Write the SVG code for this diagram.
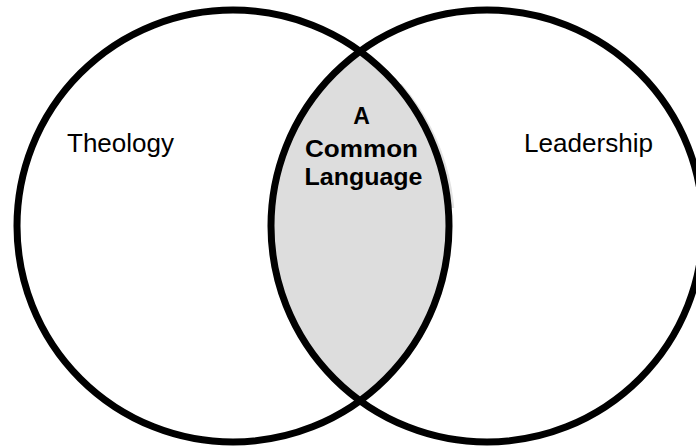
<svg xmlns="http://www.w3.org/2000/svg" width="696" height="446" viewBox="0 0 696 446">
  <style>
    .ring { fill: none; stroke: #000; stroke-width: 7; }
    .label { font-family: "Liberation Sans", Arial, sans-serif; font-size: 25px; fill: #000; }
    .core { font-family: "Liberation Sans", Arial, sans-serif; font-size: 23px; font-weight: bold; fill: #000; text-anchor: middle; }
  </style>
  <defs>
    <path id="lens" d="M 360 51.3 A 216 216 0 0 1 360 400.7 A 216 216 0 0 1 360 51.3 Z"/>
    <clipPath id="shadowClip">
      <rect x="300" y="84" width="200" height="124"/>
    </clipPath>
  </defs>
  <rect width="696" height="446" fill="#fff"/>

  <!-- soft shadow along the right side of the overlap -->
  <g id="overlap-shadow" clip-path="url(#shadowClip)">
    <use href="#lens" transform="translate(6,0)" fill="#e2e2e2"/>
  </g>

  <!-- shaded overlap -->
  <g id="overlap">
    <use href="#lens" fill="#dddddd"/>
  </g>

  <g id="theology">
    <circle class="ring" cx="233" cy="226" r="216"/>
    <text class="label" x="67" y="152" textLength="107" lengthAdjust="spacingAndGlyphs">Theology</text>
  </g>

  <g id="leadership">
    <circle class="ring" cx="487" cy="226" r="216"/>
    <text class="label" x="524" y="152" textLength="129" lengthAdjust="spacingAndGlyphs">Leadership</text>
  </g>

  <g id="common-language">
    <text class="core" x="361.5" y="124">A</text>
    <text class="core" x="361.5" y="157" textLength="113" lengthAdjust="spacingAndGlyphs">Common</text>
    <text class="core" x="363.5" y="185" textLength="118" lengthAdjust="spacingAndGlyphs">Language</text>
  </g>
</svg>
